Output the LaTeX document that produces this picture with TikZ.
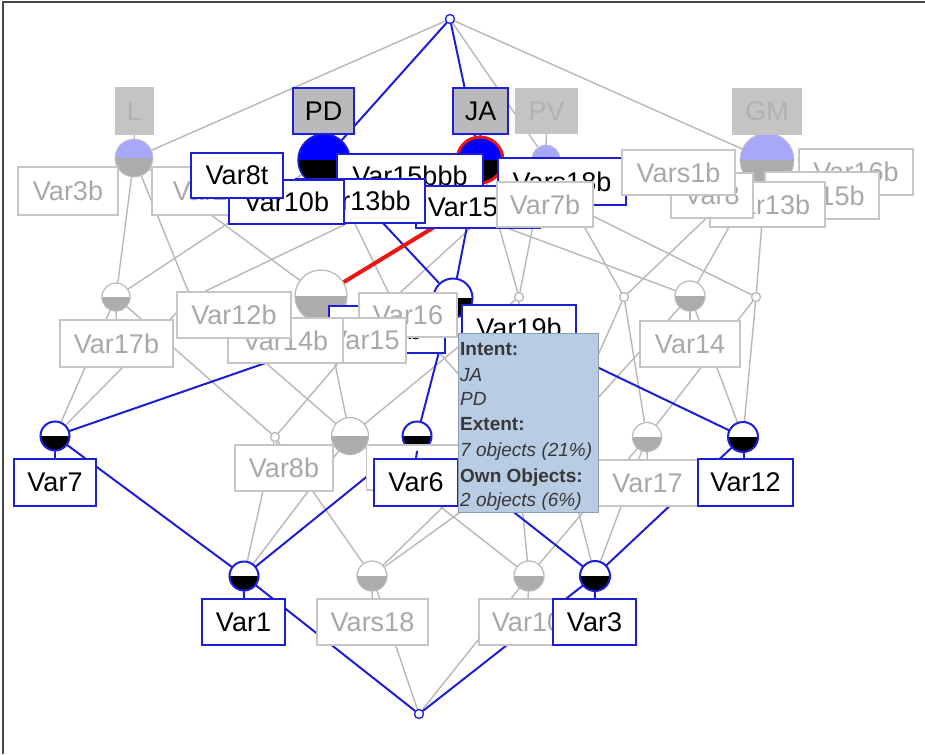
\documentclass[tikz,border=0pt]{standalone}
\usepackage{fontspec}
\setmainfont{Liberation Sans}
\pgfdeclarelayer{bglayer}
\pgfdeclarelayer{edgelayer}
\pgfsetlayers{bglayer,edgelayer,main}

\definecolor{lnblue}{RGB}{30,30,215}
\definecolor{lngray}{RGB}{184,184,184}
\definecolor{txgray}{RGB}{168,168,168}
\definecolor{bxgray}{RGB}{198,198,198}
\definecolor{cgray}{RGB}{172,172,172}
\definecolor{lblue}{RGB}{168,168,250}
\definecolor{attrgray}{RGB}{186,186,186}
\definecolor{attrpale}{RGB}{196,196,196}
\definecolor{attrtext}{RGB}{178,178,178}
\definecolor{tipfill}{RGB}{184,205,228}
\definecolor{tipline}{RGB}{140,156,180}
\definecolor{tiptext}{RGB}{56,56,56}
\definecolor{redln}{RGB}{238,20,20}
\definecolor{frame}{RGB}{70,70,70}

\newcommand\labfont{\fontsize{27}{30}\selectfont}
\newcommand\tipfont{\fontsize{19}{22}\selectfont}

\tikzset{
  gedge/.style={draw=lngray, line width=1.4pt, line cap=round},
  bedge/.style={draw=lnblue, line width=2pt, line cap=round},
  redge/.style={draw=redln, line width=4pt},
  concept/.style n args={4}{circle, inner sep=0pt, minimum size=#1, draw=#2, fill=#3,
    path picture={\fill[#4] (path picture bounding box.west) rectangle (path picture bounding box.south east);}},
  gcon/.style={concept={#1}{lngray}{white}{cgray}, line width=1.2pt},
  bcon/.style={concept={#1}{lnblue}{white}{black}, line width=2pt},
  acon/.style={concept={#1}{attrpale}{lblue}{cgray}, line width=0.8pt},
  dot/.style={circle, inner sep=0pt, minimum size=9pt, draw=lngray, fill=white, line width=1.3pt},
  lab/.style 2 args={rectangle, inner sep=0pt, minimum width=#1, minimum height=#2, fill=white, font=\labfont},
  glab/.style 2 args={lab={#1}{#2}, draw=bxgray, line width=1.5pt, text=txgray},
  blab/.style 2 args={lab={#1}{#2}, draw=lnblue, line width=1.8pt, text=black},
  attr/.style 2 args={rectangle, inner sep=0pt, minimum width=#1, minimum height=#2,
    fill=attrgray, draw=lnblue, line width=1.8pt, font=\labfont},
  pattr/.style 2 args={rectangle, inner sep=0pt, minimum width=#1, minimum height=#2,
    fill=attrpale, text=attrtext, font=\labfont},
  tip/.style={anchor=base west, inner sep=0pt, text=tiptext, font=\tipfont},
}

\begin{document}
\begin{tikzpicture}[x=1pt, y=-1pt]
\useasboundingbox (0,0) rectangle (925,754);
\begin{pgfonlayer}{bglayer}
  \fill[white] (0,0) rectangle (925,754);
  \draw[frame, line width=2pt] (3,754) -- (3,2) -- (925,2);
\end{pgfonlayer}

% ---------- concepts ----------
\node[dot, draw=lnblue] (T) at (450,19) {};
\node[dot, draw=lnblue] (Bot) at (419,714) {};

\node[acon=38] (L) at (134,158) {};
\node[concept={52}{lnblue}{blue}{black}, line width=1.5pt] (PD) at (324,160) {};
\node[concept={46}{redln}{blue}{black}, line width=3pt] (JA) at (480,160) {};
\node[acon=28] (PV) at (546,159) {};
\node[acon=54] (GM) at (767,160) {};

\node[gcon=28] (B1) at (116,297) {};
\coordinate (H) at (191,298);
\node[gcon=52] (B2) at (321,296) {};
\coordinate (H2) at (392,300);
\node[bcon=39] (B3) at (453,298) {};
\node[dot] (B4) at (519,297) {};
\node[dot] (B5) at (624,297) {};
\node[gcon=30] (B6) at (690,296) {};
\node[dot] (B7) at (756,297) {};

\node[bcon=29] (C1) at (55,436) {};
\node[dot] (C2) at (275,437) {};
\node[gcon=37] (C3) at (350,436) {};
\node[bcon=29] (C4) at (417,436) {};
\coordinate (H3) at (515,437);
\coordinate (H4) at (560,440);
\node[gcon=29] (C6) at (647,437) {};
\node[bcon=30] (C7) at (743,437) {};

\node[bcon=29] (D1) at (244,576) {};
\node[gcon=30] (D2) at (372,576) {};
\node[gcon=30] (D3) at (529,576) {};
\node[bcon=30] (D4) at (595,576) {};

% ---------- attribute labels ----------
\node[pattr={39}{48}] (aL) at (134.5,111) {L};
\node[attr={61}{46}] (aPD) at (323.5,111) {PD};
\node[attr={55}{46}] (aJA) at (480.5,111) {JA};
\node[pattr={63}{46}] (aPV) at (546.5,111) {PV};
\node[pattr={70}{47}] (aGM) at (767,111.5) {GM};

% ---------- object labels, upper row ----------
\node[glab={100}{48}] (Var3b) at (68,191) {Var3b};
\node[glab={112}{48}] (Var2b) at (208,191) {Var2b};
\node[blab={146}{43}] (Var15bbb) at (410,175.5) {Var15bbb};
\node[blab={124}{42}] (Var15bb) at (478,207) {Var15bb};
\node[blab={128}{47}] (Vars18b) at (562,181.5) {Vars18b};
\node[glab={96}{45}] (Var7b) at (545,204.5) {Var7b};
\node[blab={129}{44}] (Var13bb) at (360.5,201) {Var13bb};
\node[blab={115}{44}] (Var10b) at (286.5,202) {Var10b};
\node[blab={92}{45}] (Var8t) at (237,175.5) {Var8t};

\node[glab={114}{46}] (Var16b) at (856,172) {Var16b};
\node[glab={114}{47}] (Var15b) at (822,195.5) {Var15b};
\node[glab={115}{45}] (Var13b) at (767.5,204.5) {Var13b};
\node[glab={82}{45}] (Var8) at (712,195.5) {Var8};
\node[glab={113}{45}] (Vars1b) at (678.5,172.5) {Vars1b};

% ---------- object labels, middle row ----------
\node[glab={113}{47}] (Var17b) at (116.5,343.5) {Var17b};
\node[blab={116}{47}] (Var9b) at (387,329.5) {Var9b};
\node[glab={98}{44}] (Var16) at (408,315) {Var16};
\node[glab={83}{45}] (Var15) at (364.5,340.5) {Var15};
\node[glab={115}{45}] (Var14b) at (285.5,340.5) {Var14b};
\node[glab={114}{46}] (Var12b) at (234,315) {Var12b};
\node[blab={114}{46}] (Var19b) at (519,328) {Var19b};
\node[glab={100}{46}] (Var14) at (690,344) {Var14};

% ---------- object labels, lower rows ----------
\node[glab={98}{46}] (Var8b) at (284,468) {Var8b};
\node[glab={103}{45}] (Var6x) at (418,467.5) {};
\node[blab={84}{47}] (Var6) at (416,482.5) {Var6};
\draw[bedge] (C4.south) -- (Var6.north);
\node[glab={101}{46}] (Var17) at (647.5,483) {Var17};
\node[blab={95}{47}] (Var12) at (745.5,482.5) {Var12};
\node[blab={82}{47}] (Var7) at (55,482.5) {Var7};

\node[blab={83}{46}] (Var1) at (243.5,622) {Var1};
\node[glab={111}{46}] (Vars18) at (372.5,622) {Vars18};
\node[glab={96}{46}] (Var10) at (527,622) {Var10};
\node[blab={83}{46}] (Var3) at (594.5,622) {Var3};

% ---------- lattice edges, behind the circles and labels ----------
\begin{pgfonlayer}{edgelayer}
  \foreach \a/\b in {T/L, T/PV, T/GM,
      L/B1, L/H, L/B2,
      PD/B1, PD/H2, PD/B6,
      JA/H, JA/B4, JA/B7,
      PV/H2, PV/B4, PV/B5,
      GM/B5, GM/B6, GM/B7,
      B1/C1, B1/C2, H/C1, H/C3, B2/C3,
      H2/C2, H2/H3, B4/C3, B4/H3,
      B5/C6, B5/H4, B6/C7, B6/H4, B7/C6, B7/C7,
      C2/D1, C2/D2, C3/D1, C3/D3,
      H3/D2, H3/D3, H4/D4, H4/D2,
      C6/D3, C6/D4, D2/Bot, D3/Bot}
    \draw[gedge] (\a) -- (\b);
  % label stems
  \foreach \a/\b in {aL/L, aPV/PV, aGM/GM, C2/Var8b, C6/Var17,
      D2/Vars18, D3/Var10, B1/Var17b, B6/Var14}
    \draw[gedge] (\a) -- (\b);
  \foreach \a/\b in {T/PD, T/JA, PD/B3, JA/B3, B3/C1, B3/C4, B3/C7,
      C1/D1, C4/D1, C4/D4, C7/D4, D1/Bot, D4/Bot,
      aPD/PD, aJA/JA, C1/Var7, C7/Var12, D1/Var1, D4/Var3}
    \draw[bedge] (\a) -- (\b);
  \draw[redge] (PV) -- (B2);
\end{pgfonlayer}

% ---------- tooltip ----------
\node[rectangle, fill=tipfill, draw=tipline, line width=1pt, minimum width=140,
      minimum height=179, inner sep=0pt, anchor=north west] (tipbox) at (458,333) {};
\node[tip] (t1) at (460,355) {\bfseries Intent:};
\node[tip] (t2) at (460,381) {\itshape JA};
\node[tip] (t3) at (460,405) {\itshape PD};
\node[tip] (t4) at (460,430) {\bfseries Extent:};
\node[tip] (t5) at (460,456) {\itshape 7 objects (21\%)};
\node[tip] (t6) at (460,482) {\bfseries Own Objects:};
\node[tip] (t7) at (460,506) {\itshape 2 objects (6\%)};
\end{tikzpicture}
\end{document}
